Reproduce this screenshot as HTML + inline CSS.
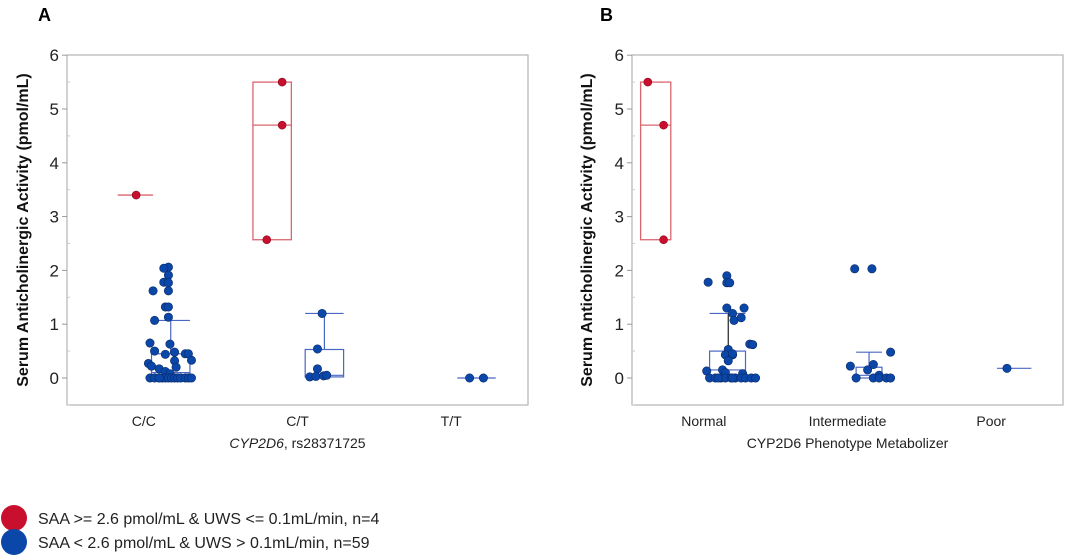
<!DOCTYPE html>
<html><head><meta charset="utf-8"><style>
html,body{margin:0;padding:0;background:#fff;}
svg{display:block;font-family:"Liberation Sans",sans-serif;}
</style></head><body>
<svg id="chart" width="1065" height="557" viewBox="0 0 1065 557" xmlns="http://www.w3.org/2000/svg">
<text x="38" y="21" font-size="18" font-weight="bold">A</text>
<text x="600" y="21" font-size="18" font-weight="bold">B</text>
<circle cx="14" cy="518" r="13" fill="#c8102e"/>
<circle cx="14" cy="542" r="13" fill="#0a47a9"/>
<text x="38" y="524" font-size="16" fill="#222">SAA &gt;= 2.6 pmol/mL &amp; UWS &lt;= 0.1mL/min, n=4</text>
<text x="38" y="548" font-size="16" fill="#222">SAA &lt; 2.6 pmol/mL &amp; UWS &gt; 0.1mL/min, n=59</text>
</svg>
<script>
const yTicks = [0,1,2,3,4,5,6];
const catsA = ["C/C","C/T","T/T"];
const catsB = ["Normal","Intermediate","Poor"];
// red group stats [min/q1, median, q3/max] per category (A)
const redA = [{cat:0,q1:3.4,med:3.4,q3:3.4,lo:-0.17,hi:0.06,vals:[3.4],dx:[-0.05]},
              {cat:1,q1:2.57,med:4.7,q3:5.5,lo:-0.29,hi:-0.04,vals:[5.5,4.7,2.57],dx:[-0.1,-0.1,-0.2]}];
const blueA = [
 {cat:0,q1:0.02,med:0.1,q3:0.45,wh:1.07,lo:0.05,hi:0.3,capLo:0.09,
  vals:[2.06,2.04,1.91,1.78,1.77,1.62,1.62,1.32,1.32,1.13,1.07,0.65,0.63,0.5,0.44,0.48,0.45,0.45,0.32,0.33,0.27,0.22,0.2,0.17,0.12,0.08,0,0,0,0,0,0,0,0,0,0,0,0,0,0],
  dx:[0.16,0.13,0.16,0.13,0.16,0.06,0.16,0.14,0.16,0.16,0.07,0.04,0.17,0.07,0.14,0.2,0.27,0.29,0.2,0.31,0.03,0.05,0.21,0.1,0.14,0.17,0.04,0.07,0.1,0.12,0.14,0.16,0.18,0.2,0.22,0.24,0.27,0.29,0.31,0.1]},
 {cat:1,q1:0.02,med:0.05,q3:0.53,wh:1.2,lo:0.05,hi:0.3,capLo:0.05,
  vals:[1.2,0.54,0.17,0.02,0.03,0.04,0.05],dx:[0.16,0.13,0.13,0.08,0.12,0.17,0.19]},
 {cat:2,q1:0,med:0,q3:0,wh:0,lo:0.04,hi:0.29,capLo:0.04,vals:[0,0],dx:[0.12,0.21]}];
const redB = [{cat:0,q1:2.57,med:4.7,q3:5.5,lo:-0.44,hi:-0.23,vals:[5.5,4.7,2.57],dx:[-0.39,-0.28,-0.28]}];
const blueB = [
 {cat:0,q1:0.03,med:0.15,q3:0.5,wh:1.2,lo:0.04,hi:0.29,capLo:0.04,whx:0.17,
  vals:[1.78,1.9,1.77,1.77,1.3,1.3,1.2,1.07,1.12,0.63,0.62,0.53,0.43,0.43,0.32,0.45,0.13,0.15,0.1,0.08,0,0,0,0,0,0,0,0,0,0,0,0],
  dx:[0.03,0.16,0.16,0.18,0.16,0.28,0.2,0.21,0.26,0.32,0.34,0.17,0.15,0.2,0.17,0.2,0.02,0.13,0.15,0.27,0.04,0.08,0.12,0.15,0.19,0.22,0.26,0.29,0.33,0.36,0.2,0.1]},
 {cat:1,q1:0,med:0.05,q3:0.2,wh:0.48,lo:0.06,hi:0.24,capLo:0.06,
  vals:[2.03,2.03,0.48,0.22,0.15,0.25,0.05,0,0,0,0,0],dx:[0.05,0.17,0.3,0.02,0.14,0.18,0.22,0.06,0.18,0.22,0.27,0.3]},
 {cat:2,q1:0.18,med:0.18,q3:0.18,wh:0.18,lo:0.04,hi:0.28,capLo:0.04,vals:[0.18],dx:[0.11]}];

const NS="http://www.w3.org/2000/svg";
const svg=document.getElementById('chart');
function mk(tag,attrs,parent){const e=document.createElementNS(NS,tag);for(const k in attrs)e.setAttribute(k,attrs[k]);(parent||svg).appendChild(e);return e;}
const Y0=378, PX=53.8;
function yS(v){return Y0-v*PX;}

function panel(L,R,cats,reds,blues,xtitle,italic,ylabX,id){
  const g=mk('g',{});
  
  
  const w=(R-L)/cats.length;
  function xS(c,dx){return L+w*(c+0.5)+dx*w;}
  const f=mk('rect',{x:L,y:55,width:R-L,height:350,fill:'none',stroke:'#b5b5b5','stroke-width':1.2},g);
  
  
  yTicks.forEach(t=>{
    const y=yS(t);
    mk('line',{x1:L-5,x2:L,y1:y,y2:y,stroke:'#999'},g);
    mk('line',{x1:L,x2:L+3,y1:yS(t-0.5),y2:yS(t-0.5),stroke:'#ccc'},g);
    const tx=mk('text',{x:L-8,y:y+6,'font-size':17,'text-anchor':'end',fill:'#222'},g);
    tx.textContent=t;
    
    
  });
  cats.forEach((c,i)=>{
    const tx=mk('text',{x:xS(i,0),y:426,'font-size':14,'text-anchor':'middle',fill:'#222'},g);
    tx.textContent=c;
    
    
  });
  const xt=mk('text',{x:(L+R)/2,y:448,'font-size':14,'text-anchor':'middle',fill:'#222'},g);
  if(italic){const a=mk('tspan',{'font-style':'italic'},xt);a.textContent='CYP2D6';const b=mk('tspan',{},xt);b.textContent=', rs28371725';}
  else xt.textContent=xtitle;
  
  
  const yt=mk('text',{x:0,y:0,'font-size':16,'font-weight':'bold','text-anchor':'middle',fill:'#111',transform:`translate(${ylabX},230) rotate(-90)`},g);
  yt.textContent='Serum Anticholinergic Activity (pmol/mL)';
  
  
  reds.forEach(r=>{
    const x1=xS(r.cat,r.lo),x2=xS(r.cat,r.hi),col='#d9666f';
    if(r.q3>r.q1){
      const b=mk('rect',{x:x1,y:yS(r.q3),width:x2-x1,height:yS(r.q1)-yS(r.q3),fill:'none',stroke:col,'stroke-width':1.3},g);
      
      
    }
    mk('line',{x1:x1,x2:x2,y1:yS(r.med),y2:yS(r.med),stroke:col,'stroke-width':1.3},g);
    r.vals.forEach((v,k)=>{
      const p=mk('circle',{cx:xS(r.cat,r.dx[k]),cy:yS(v),r:4,fill:'#c8102e',stroke:'#8a0a1e','stroke-width':0.6},g);
      
      
    });
  });
  blues.forEach(r=>{
    const x1=xS(r.cat,r.lo),x2=xS(r.cat,r.hi),col='#4a67c4';
    if(r.q3>r.q1){
      const b=mk('rect',{x:x1,y:yS(r.q3),width:x2-x1,height:yS(r.q1)-yS(r.q3),fill:'none',stroke:col,'stroke-width':1.2},g);
      
      
    }
    mk('line',{x1:x1,x2:x2,y1:yS(r.med),y2:yS(r.med),stroke:col,'stroke-width':1.2},g);
    if(r.wh>r.q3){
      const wx=xS(r.cat,r.whx!==undefined?r.whx:(r.lo+r.hi)/2);
      mk('line',{x1:wx,x2:wx,y1:yS(r.q3),y2:yS(r.wh),stroke:r.whx!==undefined?'#222':col,'stroke-width':1.2},g);
      mk('line',{x1:xS(r.cat,r.capLo),x2:x2,y1:yS(r.wh),y2:yS(r.wh),stroke:col,'stroke-width':1.2},g);
    }
    r.vals.forEach((v,k)=>{
      const p=mk('circle',{cx:xS(r.cat,r.dx[k]),cy:yS(v),r:4.2,fill:'#0a47a9',stroke:'#0b2a66','stroke-width':0.6},g);
      
      
    });
  });
}
panel(67,528,catsA,redA,blueA,'',true,28,'panel-a');
panel(632,1063,catsB,redB,blueB,'CYP2D6 Phenotype Metabolizer',false,592,'panel-b');
</script>
</body></html>
